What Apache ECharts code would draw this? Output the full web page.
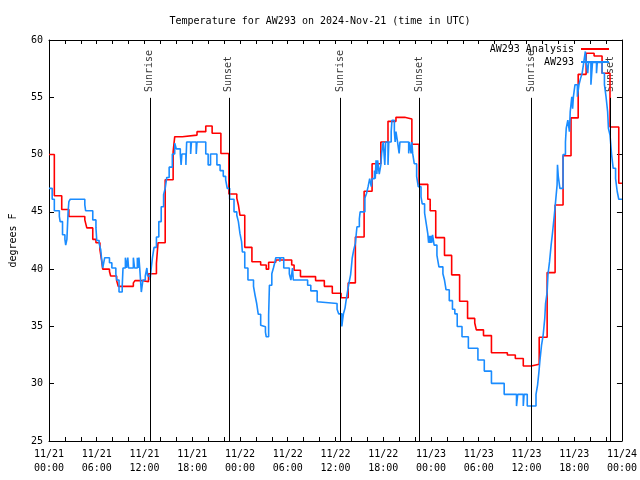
<!DOCTYPE html>
<html>
<head>
<meta charset="utf-8">
<script src="https://cdn.jsdelivr.net/npm/echarts@6/dist/echarts.min.js"></script>
<style>html,body{margin:0;padding:0;background:#fff}#c{width:640px;height:480px}</style>
</head>
<body>
<div id="c"></div>
<script>
// hours since 2024-11-21 00:00 UTC
const redT = [0,0.67,1.6,2.5,4.5,4.75,5.5,5.9,6.4,6.6,6.75,7.6,7.75,8.5,8.7,10.6,10.8,11.8,12.5,13.5,13.7,14.6,15.6,15.8,16.75,18.6,19.7,20.5,21.6,22.6,23.6,23.8,24.0,24.6,25.5,26.6,27.3,27.6,28.5,30.5,30.8,31.6,33.5,34.6,35.6,36.7,37.6,38.5,39.6,40.6,41.7,42.6,43.6,44.7,45.6,46.5,47.6,47.9,48.6,49.7,50.6,51.6,52.6,53.5,53.7,54.6,55.6,57.6,58.6,59.6,60.6,61.6,62.6,63.6,64.6,65.6,66.5,67.5,68.5,69.5,70.5,71.6,72];
const redV = [50.0,46.4,45.2,44.6,44.3,43.6,42.6,42.3,41.7,40.8,40.0,39.8,39.4,39.0,38.5,38.8,39.0,38.9,39.6,40.5,42.3,47.8,50.25,51.56,51.7,52.0,52.5,51.86,50.1,46.56,46.2,45.6,44.7,41.9,40.65,40.36,40.0,40.6,40.8,40.36,39.9,39.35,39.0,38.5,37.9,37.5,38.8,42.8,46.8,49.2,51.1,52.9,53.25,53.1,50.9,47.4,46.1,45.1,42.75,41.2,39.5,37.2,35.7,35.3,34.7,34.2,32.7,32.5,32.2,31.55,31.7,34.05,39.7,45.6,49.9,53.2,57.0,58.84,58.6,57.1,52.4,47.5,47.5];

const blueT = [0,0.4,0.67,1.3,1.4,1.7,2.0,2.1,2.25,2.4,2.5,2.67,4.5,4.6,5.5,5.9,6.0,6.3,6.5,6.6,6.75,7.0,7.6,7.9,8.4,8.5,8.8,9.2,9.3,9.6,9.75,9.9,10.0,10.6,10.75,11.1,11.2,11.3,11.4,11.5,11.6,11.8,12.1,12.3,12.4,12.7,12.85,13.0,13.2,13.5,13.8,14.1,14.4,14.6,14.8,15.1,15.5,15.8,16.0,16.5,16.6,16.7,17.2,17.3,17.8,17.9,18.5,18.6,19.7,20.0,20.3,21.1,21.5,21.9,22.2,22.4,22.7,23.25,23.6,23.8,24.0,24.2,24.3,24.6,25.0,25.7,25.9,26.1,26.3,26.6,26.8,27.2,27.3,27.6,27.7,28.0,28.2,28.4,28.5,29.0,29.1,29.5,30.2,30.4,30.6,30.7,32.5,32.9,33.7,33.8,36.2,36.4,36.8,36.9,37.0,37.2,37.3,37.5,37.7,37.9,38.0,38.1,38.3,38.5,38.6,38.7,39.0,39.1,39.7,39.9,40.1,40.3,40.5,40.6,40.9,41.0,41.1,41.2,41.3,41.5,41.7,41.8,42.0,42.2,42.3,42.6,42.7,43.0,43.1,43.4,43.5,43.6,43.8,44.0,44.1,45.2,45.3,45.5,45.6,45.7,45.9,46.2,46.4,46.75,46.9,47.2,47.4,47.6,47.7,47.8,47.9,48.0,48.1,48.2,48.4,48.75,49.0,49.5,49.7,49.9,50.3,50.7,51.0,51.3,51.9,52.7,53.9,54.7,55.6,57.2,58.75,58.9,59.6,59.7,60.1,61.2,61.4,61.55,61.7,61.9,62.1,62.3,62.4,62.6,62.7,62.9,63.1,63.25,63.5,63.7,63.85,63.9,64.0,64.2,64.6,64.9,65.0,65.2,65.4,65.5,65.7,65.8,65.9,66.1,66.4,66.6,66.8,67.0,67.2,67.4,67.5,67.7,67.8,68.1,68.3,68.8,68.9,69.5,69.8,70.0,70.2,70.3,70.5,70.7,70.9,71.2,71.4,71.6,72];
const blueV = [47.05,46.1,45.1,44.6,44.15,43.0,42.6,42.1,42.6,45.0,45.9,46.1,45.6,45.1,44.3,43.6,42.5,42.25,41.7,40.95,40.1,41.0,40.56,40.1,39.6,39.05,38.0,38.5,40.1,41.0,40.1,41.0,40.1,41.0,40.1,41.0,40.1,41.0,40.1,39.05,38.0,39.05,39.4,40.1,39.4,39.05,40.1,41.0,41.9,42.8,44.15,45.45,46.5,47.05,48.0,48.9,50.05,51.0,50.5,50.05,49.1,50.05,49.1,51.1,50.05,51.1,50.05,51.1,50.05,49.1,50.05,49.1,48.6,48.1,47.8,47.05,46.1,45.0,44.7,44.15,43.1,42.4,41.5,40.1,39.05,38.5,37.7,37.0,36.06,35.1,34.97,34.5,34.1,36.0,38.6,39.6,40.1,40.65,41.0,40.65,41.0,40.1,39.6,39.05,40.1,39.05,38.6,38.1,37.15,37.0,36.5,36.1,35.0,35.6,36.1,36.6,37.1,38.0,38.8,39.5,40.2,40.95,41.7,42.25,43.0,43.7,44.4,45.0,46.2,46.6,47.2,47.9,47.2,47.9,48.6,47.9,49.5,48.3,49.5,48.3,49.1,50.1,51.1,49.1,51.1,49.1,51.1,52.0,53.0,52.0,51.1,52.0,51.1,50.1,51.1,50.1,51.1,50.1,51.1,50.1,49.2,48.1,47.2,46.3,45.7,44.9,44.0,43.1,42.3,42.9,42.3,42.9,42.3,43.0,42.1,41.2,40.2,39.6,39.05,38.2,37.25,36.5,36.1,35.0,34.1,33.1,32.07,31.1,30.03,29.07,28.05,29.07,28.05,29.07,28.05,29.07,29.9,30.9,32.07,33.4,34.25,35.7,37.0,38.0,39.5,40.65,42.1,43.0,44.7,46.2,47.35,49.1,48.1,47.05,50.0,51.1,52.3,53.0,52.0,53.75,55.05,54.0,55.05,56.1,55.05,56.1,56.65,57.1,58.05,59.0,58.05,57.1,58.05,56.1,58.05,57.1,58.05,57.1,56.1,55.05,53.75,52.3,51.7,50.0,48.8,47.9,46.8,46.1,46.1];

const sunT = [12.67, 22.6, 36.65, 46.52, 60.6, 70.5];
const sunLabels = ['Sunrise','Sunset','Sunrise','Sunset','Sunrise','Sunset'];
const xTickLabels = ['11/21\n00:00','11/21\n06:00','11/21\n12:00','11/21\n18:00','11/22\n00:00','11/22\n06:00','11/22\n12:00','11/22\n18:00','11/23\n00:00','11/23\n06:00','11/23\n12:00','11/23\n18:00','11/24\n00:00'];
const seriesNames = ['AW293 Analysis', 'AW293'];

const FONT = 'DejaVu Sans Mono';
const pair = (ts, vs) => ts.map((t, i) => [t, vs[i]]);

const chart = echarts.init(document.getElementById('c'), null, {renderer: 'canvas'});
const axisCommon = {
  min: 0, max: 72, interval: 6, type: 'value',
  axisLine: {show: true, lineStyle: {color: '#000', width: 1}},
  axisTick: {show: true, inside: true, length: 4, lineStyle: {color: '#000'}},
  minorTick: {show: true, splitNumber: 3, length: 4, lineStyle: {color: '#000'}},
  splitLine: {show: false}
};
const yCommon = {
  type: 'value', min: 25, max: 60, interval: 5,
  axisLine: {show: true, onZero: false, lineStyle: {color: '#000', width: 1}},
  axisTick: {show: true, inside: true, length: 5, lineStyle: {color: '#000'}},
  splitLine: {show: false}
};
chart.setOption({
  animation: false,
  backgroundColor: '#fff',
  title: {
    text: 'Temperature for AW293 on 2024-Nov-21 (time in UTC)',
    left: 'center', top: 11,
    textStyle: {fontFamily: FONT, fontSize: 10, fontWeight: 'normal', color: '#000'}
  },
  grid: {left: 46, right: 18, top: 40, bottom: 39},
  legend: [
    {data: [seriesNames[0]], right: 31, top: 44, orient: 'vertical', align: 'right', icon: 'rect',
     itemWidth: 28, itemHeight: 2, padding: 0,
     textStyle: {fontFamily: FONT, fontSize: 10, color: '#000', padding: [0, 2, 0, 0]}},
    {data: [seriesNames[1]], right: 31, top: 57, orient: 'vertical', align: 'right', icon: 'rect',
     itemWidth: 28, itemHeight: 2, padding: 0,
     textStyle: {fontFamily: FONT, fontSize: 10, color: '#000', padding: [0, 2, 0, 0]}}
  ],
  xAxis: [
    Object.assign({}, axisCommon, {
      position: 'bottom',
      axisLabel: {
        show: true, margin: 6, fontFamily: FONT, fontSize: 10, color: '#000', lineHeight: 14,
        showMinLabel: true, showMaxLabel: true,
        formatter: v => xTickLabels[Math.round(v / 6)]
      }
    }),
    Object.assign({}, axisCommon, {position: 'top', axisLabel: {show: false}})
  ],
  yAxis: [
    Object.assign({}, yCommon, {
      position: 'left',
      name: 'degrees F', nameLocation: 'middle', nameGap: 31,
      nameTextStyle: {fontFamily: FONT, fontSize: 10, color: '#000'},
      axisLabel: {show: true, margin: 6, fontFamily: FONT, fontSize: 10, color: '#000'}
    }),
    Object.assign({}, yCommon, {position: 'right', axisLabel: {show: false}})
  ],
  series: [
    {
      name: seriesNames[0], type: 'line', step: 'end', showSymbol: false,
      data: pair(redT, redV),
      color: '#ff0000', lineStyle: {color: '#ff0000', width: 1.6}
    },
    {
      name: seriesNames[1], type: 'line', step: 'end', showSymbol: false,
      data: pair(blueT, blueV),
      color: '#1a8cff', lineStyle: {color: '#1a8cff', width: 1.6}
    },
    {
      name: 'sun', type: 'scatter', symbolSize: 0, silent: true,
      data: sunT.map((t, i) => [t, 55.46, sunLabels[i]]),
      label: {
        show: true, position: 'inside', rotate: 90, align: 'left', verticalAlign: 'middle',
        formatter: p => p.data[2], fontFamily: FONT, fontSize: 10, color: '#000'
      },
      markLine: {
        silent: true, symbol: ['none', 'none'], animation: false,
        label: {show: false},
        lineStyle: {color: '#000', width: 1, type: 'solid'},
        data: sunT.map(t => [{coord: [t, 25]}, {coord: [t, 54.95]}])
      }
    }
  ]
});
</script>
</body>
</html>
